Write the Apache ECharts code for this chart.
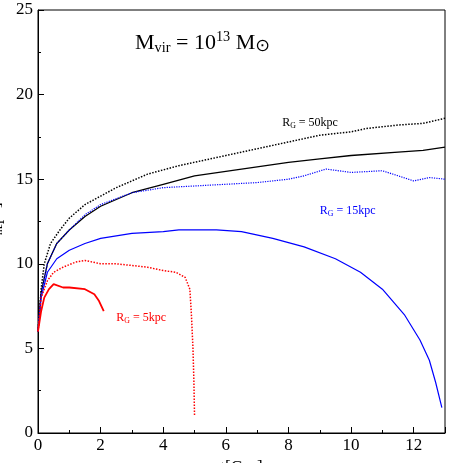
<!DOCTYPE html>
<html><head><meta charset="utf-8">
<script src="https://cdn.jsdelivr.net/npm/echarts@6/dist/echarts.min.js"></script>
<style>html,body{margin:0;padding:0;background:#fff}#c{width:463px;height:463px}</style>
</head><body><div id="c"></div>
<script>
const xTicks=[0,2,4,6,8,10,12];
const yTicks=[0,5,10,15,20,25];
const black50Dotted=[[0,6],[0.1,8.5],[0.2,10],[0.4,11.2],[0.7,12],[1,12.7],[1.5,13.5],[2,14],[2.5,14.5],[3,14.9],[3.5,15.3],[4.5,15.8],[5.5,16.2],[6.5,16.6],[7.5,17],[8.5,17.4],[9,17.6],[10,17.8],[10.5,18],[11.5,18.2],[12.3,18.3],[13,18.6]];
const black50Solid=[[0,6],[0.1,8.3],[0.3,10],[0.6,11.2],[1,12],[1.5,12.8],[2,13.4],[3,14.2],[4,14.7],[5,15.2],[6.5,15.6],[8,16],[9,16.2],[10,16.4],[11.5,16.6],[12.3,16.7],[13,16.9]];
const blue15Dotted=[[0,6],[0.1,8.2],[0.3,10],[0.6,11.2],[1,12],[1.5,12.9],[2,13.5],[3,14.2],[4,14.5],[5,14.6],[6,14.7],[7,14.8],[8,15],[8.5,15.2],[9.2,15.6],[10,15.4],[11,15.5],[11.5,15.2],[12,14.9],[12.5,15.1],[13,15]];
const blue15Solid=[[0,6],[0.1,8],[0.3,9.5],[0.6,10.3],[1,10.8],[1.5,11.2],[2,11.5],[3,11.8],[4,11.9],[4.5,12],[5.7,12],[6.5,11.9],[7.5,11.5],[8.5,11],[9.5,10.3],[10.3,9.5],[11,8.5],[11.7,7],[12.2,5.5],[12.5,4.3],[12.7,3],[12.9,1.5]];
const red5Dotted=[[0,6],[0.1,8],[0.3,9],[0.5,9.5],[0.8,9.8],[1.2,10.1],[1.5,10.2],[2,10],[2.5,10],[3,9.9],[3.5,9.8],[4,9.6],[4.4,9.5],[4.7,9.2],[4.85,8.5],[4.9,7],[4.95,5],[4.98,3],[5.0,1]];
const red5Solid=[[0,6],[0.1,7.2],[0.2,8],[0.35,8.5],[0.5,8.8],[0.8,8.6],[1,8.6],[1.5,8.5],[1.8,8.2],[1.95,7.8],[2.1,7.2]];
const chart=echarts.init(document.getElementById('c'));
function s(d,c,t,w){return {type:'line',data:d,showSymbol:false,lineStyle:{color:c,type:t,width:w},itemStyle:{color:c},animation:false};}
const ax={axisLine:{lineStyle:{color:'#000',width:1}},axisTick:{inside:true,length:6,lineStyle:{color:'#000'}},minorTick:{show:true,splitNumber:2,length:3,lineStyle:{color:'#000'}},splitLine:{show:false},axisLabel:{color:'#000',fontFamily:'Liberation Serif',fontSize:17,showMaxLabel:false}};
chart.setOption({
 animation:false,
 grid:{left:38,right:18,top:10,bottom:30,show:true,borderColor:'#000',borderWidth:1,containLabel:false,outerBoundsMode:'none'},
 xAxis:Object.assign({type:'value',min:0,max:13,interval:2,name:'t[Gyr]',nameLocation:'middle',nameGap:22,nameTextStyle:{fontFamily:'Liberation Serif',fontSize:17,color:'#000'}},ax,{axisLabel:Object.assign({},ax.axisLabel,{margin:4})}),
 yAxis:Object.assign({type:'value',min:0,max:25,interval:5,name:'{a|r}{b|h}{a|[pc]}',nameLocation:'middle',nameGap:24,nameTextStyle:{rich:{a:{fontFamily:'Liberation Serif',fontSize:17,color:'#000'},b:{fontFamily:'Liberation Serif',fontSize:11,color:'#000',verticalAlign:'bottom',padding:[8,0,0,0]}}}},ax,{axisLabel:Object.assign({},ax.axisLabel,{margin:5,showMaxLabel:true})}),
 series:[s(black50Dotted,'#000','dotted',1.5),s(black50Solid,'#000','solid',1.3),s(blue15Dotted,'#0000ff','dotted',1.2),s(blue15Solid,'#0000ff','solid',1.2),s(red5Dotted,'#ff0000','dotted',1.5),s(red5Solid,'#ff0000','solid',1.8)]
});
function lab(x,y,txt,c,fs){const p=chart.convertToPixel({gridIndex:0},[x,y]);
 return {type:'text',x:p[0],y:p[1],style:{text:txt,rich:{a:{fontFamily:'Liberation Serif',fontSize:fs,fill:c},b:{fontFamily:'Liberation Serif',fontSize:fs*0.65,fill:c,padding:[fs*0.45,0,0,0]},s:{fontFamily:'Liberation Serif',fontSize:fs*0.65,fill:c,padding:[0,0,fs*0.5,0]},o:{fontFamily:'DejaVu Sans',fontSize:fs*0.8,fill:c,padding:[fs*0.3,0,0,0]}}}};}
chart.setOption({graphic:[
 lab(7.8,18.7,'{a|R}{b|G}{a| = 50kpc}','#000',12),
 lab(9.0,13.5,'{a|R}{b|G}{a| = 15kpc}','#0000ff',12),
 lab(2.5,7.2,'{a|R}{b|G}{a| = 5kpc}','#ff0000',12),
 lab(3.1,23.8,'{a|M}{b|vir}{a| = 10}{s|13}{a| M}{o|⊙}','#000',22)
]});
</script></body></html>
